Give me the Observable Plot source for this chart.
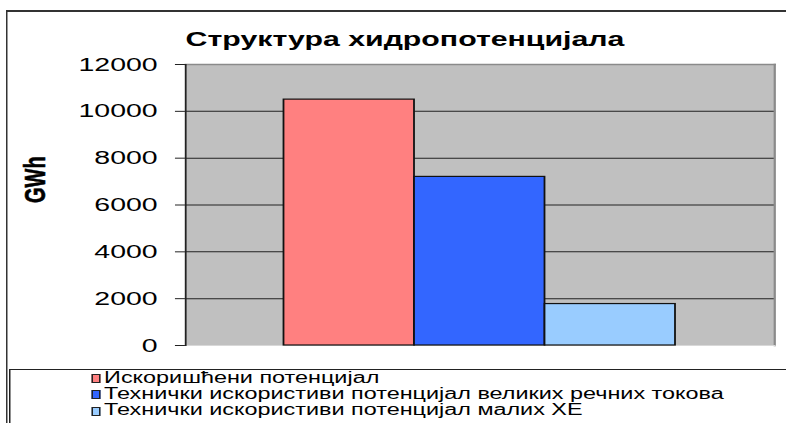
<!DOCTYPE html>
<html><head><meta charset="utf-8">
<script src="https://cdn.jsdelivr.net/npm/d3@7"></script>
<script src="https://cdn.jsdelivr.net/npm/@observablehq/plot@0.6"></script>
<style>
html,body{margin:0;padding:0;background:#fff;overflow:hidden;width:786px;height:423px}
#stage{position:absolute;left:0;top:0;width:524px;height:423px;transform:scaleX(1.5);transform-origin:0 0;font-family:"Liberation Sans",Arial,sans-serif;color:#000}
#frame{position:absolute;left:4.3px;top:10px;width:600px;height:500px;border-top:2px solid #333;border-left:1px solid #333}
#title{position:absolute;left:0;width:540px;top:28.5px;line-height:20px;text-align:center;font-weight:bold;font-size:20.2px}
#chart{position:absolute;left:0;top:0}
#legend{position:absolute;left:6.3px;top:368.5px;width:600px;height:100px;border-top:1.5px solid #222;border-left:1px solid #222}
.item{position:absolute;left:53.5px;height:16px;line-height:16px;font-size:15.6px;white-space:nowrap}
.sw{display:inline-block;width:4px;height:7px;border:0.7px solid #222;margin-right:2.6px;vertical-align:-0.5px}
</style>
</head><body>
<div id="stage">
  <div id="frame"></div>
  <div id="chart"></div>
  <div id="title">Структура хидропотенцијала</div>
  <div id="legend"></div>
</div>
<script>
const series = [
  "Искоришћени потенцијал",
  "Технички искористиви потенцијал великих речних токова",
  "Технички искористиви потенцијал малих ХЕ"
];
const values = [10500, 7200, 1770];
const colors = ["#FF8080", "#3366FF", "#99CCFF"];
const yTicks = [0, 2000, 4000, 6000, 8000, 10000, 12000];
const yLabel = "GWh";

const data = series.map((name, i) => ({name, value: values[i]}));

const plot = Plot.plot({
  width: 524, height: 369,
  marginLeft: 123.3, marginRight: 8, marginTop: 64, marginBottom: 24,
  x: {domain: series, paddingInner: 0, paddingOuter: 0.75, axis: null},
  y: {domain: [0, 12000]},
  color: {domain: series, range: colors},
  style: {fontFamily: "'Liberation Sans', Arial, sans-serif", fontSize: "19px", background: "transparent", color: "#000", overflow: "visible"},
  marks: [
    Plot.frame({fill: "#C0C0C0", stroke: null}),
    Plot.ruleY(yTicks.filter(v => v > 0 && v < 12000), {stroke: "#222", strokeWidth: 1}),
    Plot.frame({anchor: "top", stroke: "#8a8a8a", strokeWidth: 1.5}),
    Plot.frame({anchor: "right", stroke: "#8a8a8a", strokeWidth: 1.5}),
    Plot.frame({anchor: "bottom", stroke: "#d8d8d8", strokeWidth: 1}),
    Plot.barY(data, {x: "name", y: "value", fill: "name", stroke: "#111", strokeWidth: 1.2, inset: 0}),
    Plot.frame({anchor: "left", stroke: "#222", strokeWidth: 1.2}),
    Plot.axisY({ticks: yTicks, tickSize: 6.67, tickPadding: 12, tickFormat: d => String(d), fontSize: 19, label: null, stroke: "#222"}),
    Plot.text([yLabel], {frameAnchor: "left", dx: -100.3, dy: -2, rotate: -90, fontWeight: "bold", fontSize: 20, fill: "#000", stroke: "#000", strokeWidth: 0.4})
  ]
});
document.getElementById("chart").appendChild(plot);

const legend = document.getElementById("legend");
series.forEach((name, i) => {
  const item = document.createElement("div");
  item.className = "item";
  item.style.top = (0 + i * 16.3) + "px";
  const sw = document.createElement("span");
  sw.className = "sw";
  sw.style.background = colors[i];
  item.appendChild(sw);
  item.appendChild(document.createTextNode(name));
  legend.appendChild(item);
});
</script>
</body></html>
